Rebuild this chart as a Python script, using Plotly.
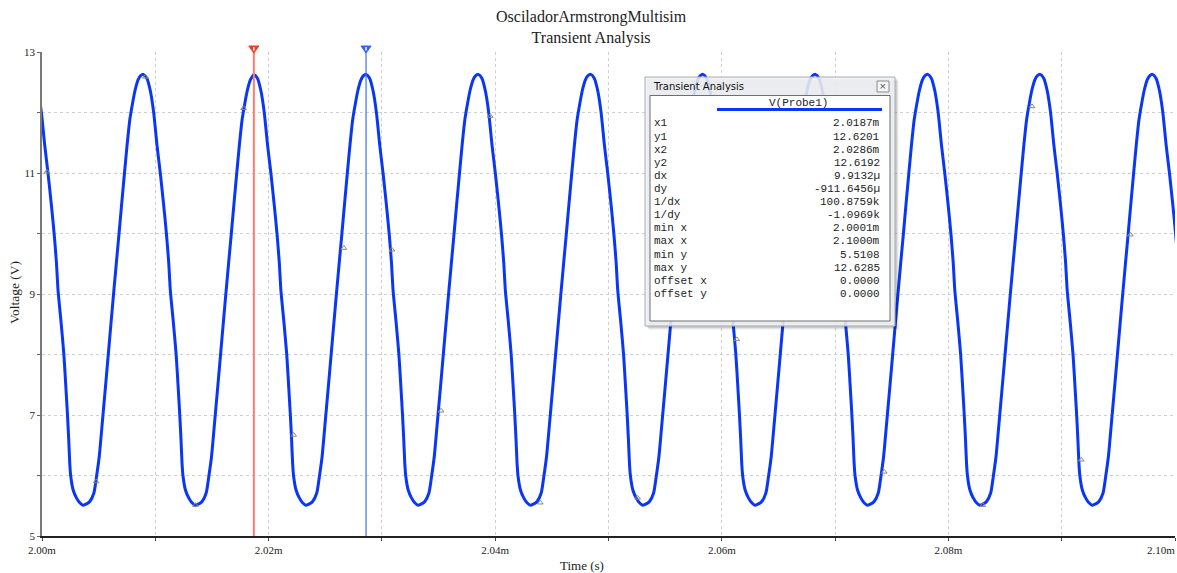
import plotly.graph_objects as go

# ---------------- data ----------------
# times of the waveform peaks (ms)
peak_times = [1.99903, 2.00894, 2.01870, 2.02860, 2.03851, 2.04843, 2.05834,
              2.06826, 2.07818, 2.08810, 2.09801, 2.10792]
# one cycle of V(Probe1): offset after a peak (us) and voltage (V)
cycle_offset_us = [0, 0.30, 0.62, 0.91, 1.21, 1.50, 1.80, 2.04, 2.24, 2.39, 2.66,
                   2.90, 3.09, 3.22, 3.33, 3.42, 3.50, 3.72, 4.01, 4.30, 4.60,
                   4.90, 5.19, 5.55, 5.78, 6.02, 6.29, 6.55, 6.82, 7.06, 7.31,
                   7.54, 7.77, 8.05, 8.25, 8.48, 8.72, 8.96, 9.20, 9.45, 9.68]
cycle_volts = [12.63, 12.57, 12.36, 12.01, 11.46, 11.00, 10.47, 10.00, 9.53, 9.05,
               8.52, 8.00, 7.42, 7.00, 6.59, 6.20, 6.00, 5.76, 5.63, 5.55, 5.51,
               5.53, 5.57, 5.71, 5.98, 6.31, 6.87, 7.42, 8.00, 8.52, 9.05, 9.53,
               10.00, 10.59, 11.00, 11.46, 11.88, 12.15, 12.38, 12.54, 12.61]

# little data markers visible on the trace
marker_t = [2.00044, 2.00478, 2.00912, 2.01354, 2.01779, 2.02221, 2.02664, 2.03088,
            2.03522, 2.03956, 2.04398, 2.05257, 2.06133, 2.07434, 2.08304, 2.08738,
            2.09172, 2.09606]
marker_v = [11.02, 5.90, 12.59, 5.51, 12.07, 6.67, 9.76, 9.73, 7.07, 11.94, 5.55,
            5.63, 8.25, 6.06, 5.51, 12.10, 6.26, 9.98]

cursor1_t = 2.0187
cursor2_t = 2.0286

x_tickvals = [2.00, 2.01, 2.02, 2.03, 2.04, 2.05, 2.06, 2.07, 2.08, 2.09, 2.10]
x_ticktext = ["2.00m", "", "2.02m", "", "2.04m", "", "2.06m", "", "2.08m", "", ""]
x_last_label = "2.10m"
y_tickvals = [5, 6, 7, 8, 9, 10, 11, 12, 13]
y_ticktext = ["5", "", "7", "", "9", "", "11", "", "13"]

panel_labels = ["x1", "y1", "x2", "y2", "dx", "dy", "1/dx", "1/dy", "min x", "max x",
                "min y", "max y", "offset x", "offset y"]
panel_values = ["2.0187m", "12.6201", "2.0286m", "12.6192", "9.9132µ", "-911.6456µ",
                "100.8759k", "-1.0969k", "2.0001m", "2.1000m", "5.5108", "12.6285",
                "0.0000", "0.0000"]

# ---------------- build series ----------------
t_ms, v = [], []
for pk in peak_times:
    for off, vv in zip(cycle_offset_us, cycle_volts):
        t_ms.append(pk + off / 1000.0)
        v.append(vv)

# ---------------- layout geometry helpers ----------------
W, H = 1177, 573
L, R, T, B = 42, 2, 52, 37
PW, PH = W - L - R, H - T - B
XMIN, XMAX = 2.0, 2.1


def px(x):
    return (x - L) / PW


def py(y):
    return (H - B - y) / PH


def dx_px(n):  # pixel width -> data units on x
    return n * (XMAX - XMIN) / PW


SERIF = "Liberation Serif"
MONO = "Liberation Mono"

fig = go.Figure()

fig.add_trace(go.Scatter(
    x=t_ms, y=v, mode="lines",
    line=dict(color="#0a36f5", width=3, shape="spline", smoothing=0.6),
    hoverinfo="skip", showlegend=False))

fig.add_trace(go.Scatter(
    x=marker_t, y=marker_v, mode="markers",
    marker=dict(symbol="triangle-up-open", size=5, color="#8c8c78", line=dict(width=1)),
    hoverinfo="skip", showlegend=False))

# cursors
fig.add_trace(go.Scatter(x=[cursor1_t, cursor1_t], y=[5, 13], mode="lines",
                         line=dict(color="#ff7d6c", width=2), showlegend=False,
                         hoverinfo="skip"))
fig.add_trace(go.Scatter(x=[cursor2_t, cursor2_t], y=[5, 13], mode="lines",
                         line=dict(color="#3a6cff", width=1.2), showlegend=False,
                         hoverinfo="skip"))

shapes = []
annotations = []

# cursor head triangles
for ct, col in [(cursor1_t, "#f03a1e"), (cursor2_t, "#2f5fff")]:
    half = dx_px(5)
    path = (f"M {ct - half} {py(46)} L {ct + half} {py(46)} "
            f"L {ct} {py(53)} Z")
    shapes.append(dict(type="path", xref="x", yref="paper", path=path,
                       fillcolor=col, line=dict(color=col, width=1), layer="above"))
    shapes.append(dict(type="line", xref="x", yref="paper", x0=ct, x1=ct,
                       y0=py(47), y1=py(50.5), line=dict(color="white", width=1.5),
                       layer="above"))

# floating "Transient Analysis" panel
bx0, by0, bx1, by1 = 645, 77, 895, 326
for i, a in enumerate([0.10, 0.07, 0.04]):
    d = i + 2
    shapes.append(dict(type="rect", xref="paper", yref="paper", layer="above",
                       x0=px(bx0 + d), x1=px(bx1 + d), y0=py(by1 + d), y1=py(by0 + d),
                       line=dict(width=0), fillcolor=f"rgba(0,0,0,{a})"))
shapes.append(dict(type="rect", xref="paper", yref="paper", layer="above",
                   x0=px(bx0), x1=px(bx1), y0=py(by1), y1=py(by0),
                   line=dict(color="#a9acb2", width=1),
                   fillcolor="rgba(238,240,244,0.88)"))
shapes.append(dict(type="rect", xref="paper", yref="paper", layer="above",
                   x0=px(650), x1=px(890), y0=py(321), y1=py(95.5),
                   line=dict(color="#6e6e6e", width=1), fillcolor="white"))
# close button
shapes.append(dict(type="rect", xref="paper", yref="paper", layer="above",
                   x0=px(877), x1=px(889), y0=py(92), y1=py(81),
                   line=dict(color="#8a8a8a", width=1), fillcolor="#f4f4f4"))
annotations.append(dict(xref="paper", yref="paper", x=px(883), y=py(86.5), text="×",
                        showarrow=False, font=dict(family="DejaVu Sans", size=9,
                                                   color="#555"),
                        xanchor="center", yanchor="middle"))
annotations.append(dict(xref="paper", yref="paper", x=px(651), y=py(86.5),
                        text="Transient Analysis", showarrow=False,
                        font=dict(family="DejaVu Sans", size=10, color="#111"),
                        xanchor="left", yanchor="middle"))
# header + blue line
annotations.append(dict(xref="paper", yref="paper", x=px(799), y=py(103),
                        text="V(Probe1)", showarrow=False,
                        font=dict(family=MONO, size=11, color="#222"),
                        xanchor="center", yanchor="middle"))
shapes.append(dict(type="line", xref="paper", yref="paper", layer="above",
                   x0=px(717), x1=px(882), y0=py(109.5), y1=py(109.5),
                   line=dict(color="#0a36f5", width=3)))
for i, (lab, val) in enumerate(zip(panel_labels, panel_values)):
    yy = 123.5 + i * 13.1
    annotations.append(dict(xref="paper", yref="paper", x=px(651.5), y=py(yy),
                            text=lab, showarrow=False,
                            font=dict(family=MONO, size=11, color="#222"),
                            xanchor="left", yanchor="middle"))
    annotations.append(dict(xref="paper", yref="paper", x=px(881.5), y=py(yy),
                            text=val, showarrow=False,
                            font=dict(family=MONO, size=11, color="#222"),
                            xanchor="right", yanchor="middle"))

# last x tick label, kept inside the page
annotations.append(dict(xref="paper", yref="paper", x=px(1177), y=py(550),
                        text=x_last_label, showarrow=False,
                        font=dict(family=SERIF, size=11, color="#222"),
                        xanchor="right", yanchor="middle"))

# titles
annotations.append(dict(xref="paper", yref="paper", x=px(591), y=py(28),
                        text="OsciladorArmstrongMultisim<br>Transient Analysis",
                        showarrow=False, font=dict(family=SERIF, size=16, color="#222"),
                        xanchor="center", yanchor="middle"))
annotations.append(dict(xref="paper", yref="paper", x=px(582), y=py(565),
                        text="Time (s)", showarrow=False,
                        font=dict(family=SERIF, size=13, color="#222"),
                        xanchor="center", yanchor="middle"))
annotations.append(dict(xref="paper", yref="paper", x=px(14), y=py(293),
                        text="Voltage (V)", showarrow=False, textangle=-90,
                        font=dict(family=SERIF, size=13.5, color="#222"),
                        xanchor="center", yanchor="middle"))

fig.update_layout(
    width=W, height=H,
    margin=dict(l=L, r=R, t=T, b=B, pad=0, autoexpand=False),
    paper_bgcolor="white", plot_bgcolor="white",
    showlegend=False,
    shapes=shapes, annotations=annotations,
    xaxis=dict(range=[XMIN, XMAX], tickvals=x_tickvals, ticktext=x_ticktext,
               automargin=False, ticklabeloverflow="allow",
               showgrid=True, gridcolor="#cfcfcf", griddash="3px,3px", gridwidth=1,
               zeroline=False, showline=True, linecolor="#222", linewidth=2,
               ticks="outside", ticklen=3, tickcolor="#444",
               tickfont=dict(family=SERIF, size=11, color="#222")),
    yaxis=dict(range=[5, 13], tickvals=y_tickvals, ticktext=y_ticktext,
               automargin=False,
               showgrid=True, gridcolor="#cfcfcf", griddash="3px,3px", gridwidth=1,
               zeroline=False, showline=True, linecolor="#777", linewidth=1.5,
               ticks="outside", ticklen=3, tickcolor="#666",
               tickfont=dict(family=SERIF, size=11, color="#222")),
)

fig.write_html("out.html",
               config={"displayModeBar": False},
               post_script="document.body.style.margin='0';"
                           "document.body.style.overflow='hidden';")
